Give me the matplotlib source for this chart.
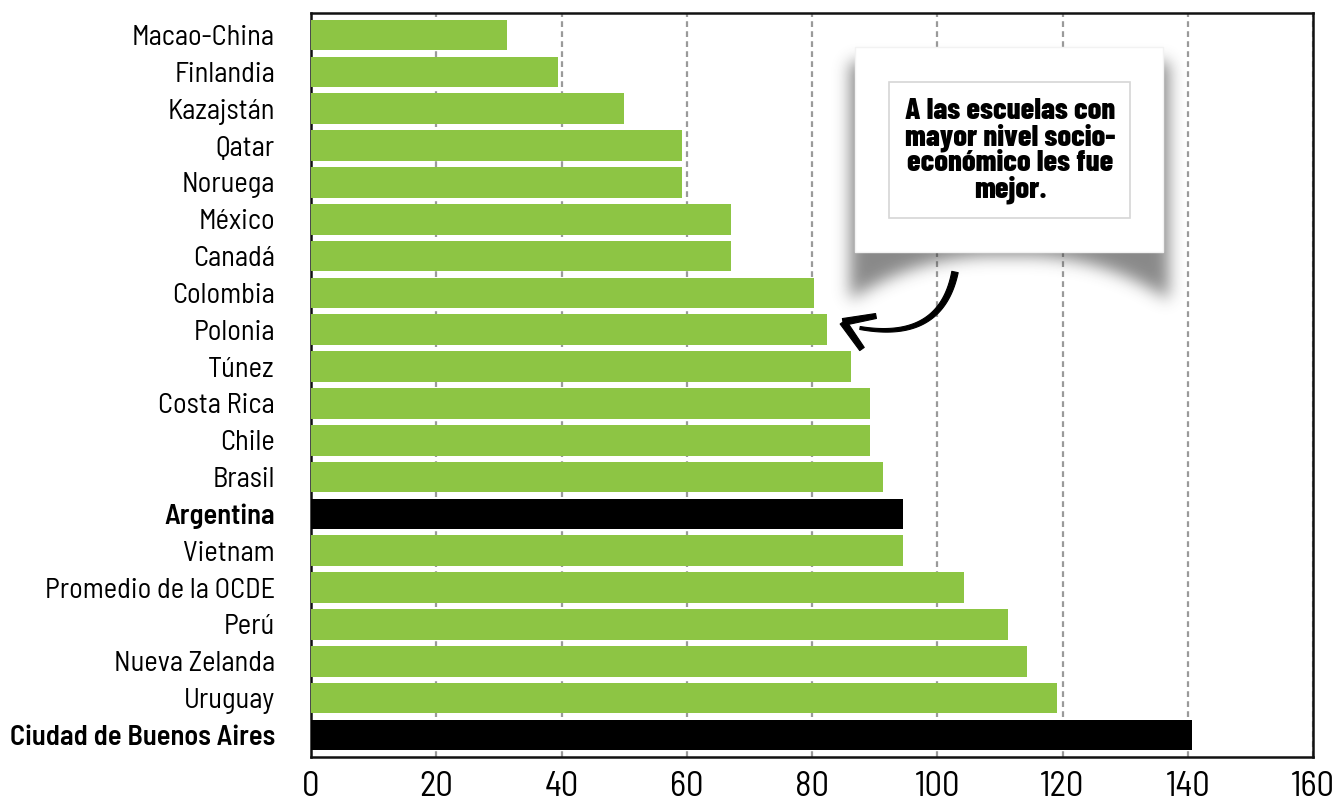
import numpy as np
import matplotlib
matplotlib.use("Agg")
import matplotlib.pyplot as plt
from matplotlib import font_manager as fm
from matplotlib.patches import Rectangle, Polygon

# ---- data -------------------------------------------------------------
countries = [
    "Macao-China", "Finlandia", "Kazajstán", "Qatar", "Noruega", "México",
    "Canadá", "Colombia", "Polonia", "Túnez", "Costa Rica", "Chile", "Brasil",
    "Argentina", "Vietnam", "Promedio de la OCDE", "Perú", "Nueva Zelanda",
    "Uruguay", "Ciudad de Buenos Aires",
]
values = [31.3, 39.4, 50.0, 59.3, 59.3, 67.0, 67.0, 80.3, 82.4, 86.2,
          89.2, 89.2, 91.4, 94.5, 94.5, 104.2, 111.3, 114.4, 119.1, 140.6]
highlighted = ["Argentina", "Ciudad de Buenos Aires"]
x_ticks = [0, 20, 40, 60, 80, 100, 120, 140, 160]
callout_text = "A las escuelas con\nmayor nivel socio-\neconómico les fue\nmejor."

GREEN = "#8dc544"
BLACK = "#000000"

# ---- fonts ------------------------------------------------------------
available = {f.name for f in fm.fontManager.ttflist}
FONT = "Barlow Semi Condensed" if "Barlow Semi Condensed" in available else "DejaVu Sans"
FONT_TIGHT = "Barlow Condensed" if "Barlow Condensed" in available else FONT
plt.rcParams["font.family"] = [FONT, "DejaVu Sans"]

W, H = 1339, 808
fig = plt.figure(figsize=(W / 100, H / 100), dpi=100)
fig.patch.set_facecolor("white")

ax = fig.add_axes([311 / W, 1 - 757 / H, (1313 - 311) / W, (757 - 13) / H])
ypos = np.arange(len(countries))
colors = [BLACK if c in highlighted else GREEN for c in countries]
ax.barh(ypos, values, height=0.83, color=colors, zorder=3)

ax.set_xlim(0, 160)
ax.set_ylim(len(countries) - 0.4, -0.6)
ax.set_xticks(x_ticks)
ax.set_xticklabels([str(t) for t in x_ticks], fontsize=25)
ax.set_yticks(ypos)
ax.set_yticklabels(countries, fontsize=20.5)
for lbl in ax.get_yticklabels():
    if lbl.get_text() in highlighted:
        lbl.set_fontweight(600)
ax.tick_params(axis="both", length=0)
ax.tick_params(axis="y", pad=26)
ax.tick_params(axis="x", pad=10)
ax.xaxis.grid(True, color="#9a9a9a", linewidth=1.6, linestyle=(0, (2.6, 1.9)), zorder=1)
ax.yaxis.grid(False)
ax.set_axisbelow(True)
for sp in ax.spines.values():
    sp.set_color("#111111")
    sp.set_linewidth(1.8)

# ---- callout overlay (pixel coordinates) ------------------------------
ov = fig.add_axes([0, 0, 1, 1], zorder=5)
ov.axis("off")
ov.patch.set_alpha(0)

# soft curled-page shadow behind the box
bx0, bx1, by0, by1 = 855, 1163, 47, 252
gx0, gx1, gy0, gy1 = 800, 1220, 20, 360
gw, gh = gx1 - gx0, gy1 - gy0
mask = np.zeros((gh, gw))
xs = np.arange(gx0, gx1)
for i, x in enumerate(xs):
    if 850 <= x <= 1168:
        t = (x - 1009) / 159.0
        ybot = 256 + 44 * abs(t) ** 2.4
        mask[max(0, 62 - gy0):int(ybot - gy0), i] = 1.0

def blur(a, sigma):
    r = int(3 * sigma)
    k = np.exp(-0.5 * (np.arange(-r, r + 1) / sigma) ** 2)
    k /= k.sum()
    a = np.apply_along_axis(lambda v: np.convolve(v, k, mode="same"), 0, a)
    a = np.apply_along_axis(lambda v: np.convolve(v, k, mode="same"), 1, a)
    return a

shadow = blur(mask, 8.0)
rgba = np.zeros((gh, gw, 4))
rgba[..., :3] = 0.2
rgba[..., 3] = 0.58 * shadow
ov.imshow(rgba, extent=(gx0, gx1, gy1, gy0), origin="upper",
          interpolation="bilinear", aspect="auto", zorder=1)
ov.set_xlim(0, W)
ov.set_ylim(H, 0)

ov.add_patch(Rectangle((bx0, by0), bx1 - bx0, by1 - by0, facecolor="white",
                       edgecolor="#f2f2f2", linewidth=1, zorder=2))
ov.add_patch(Rectangle((889, 82), 1130 - 889, 218 - 82, facecolor="white",
                       edgecolor="#d6d6d6", linewidth=1.2, zorder=3))
ov.text(1010, 151, callout_text, ha="center", va="center", fontsize=22,
        family=[FONT_TIGHT, "DejaVu Sans"], fontweight=800,
        linespacing=0.93, color="black", zorder=4)

# hand-drawn arrow as tapered brush strokes
def stroke(pts, w0, w1):
    pts = np.asarray(pts, dtype=float)
    d = np.gradient(pts, axis=0)
    n = np.stack([-d[:, 1], d[:, 0]], axis=1)
    n /= np.linalg.norm(n, axis=1, keepdims=True)
    w = np.linspace(w0, w1, len(pts))[:, None] / 2
    left = pts + n * w
    right = pts - n * w
    poly = np.vstack([left, right[::-1]])
    ov.add_patch(Polygon(poly, closed=True, facecolor="black", edgecolor="black",
                         linewidth=0.8, joinstyle="round", zorder=6))

t = np.linspace(0, 1, 60)[:, None]
p0, p1, p2 = np.array([955, 272]), np.array([941, 342]), np.array([860, 328])
curve = (1 - t) ** 2 * p0 + 2 * (1 - t) * t * p1 + t ** 2 * p2
stroke(curve, 6.5, 3.0)
s = np.linspace(0, 1, 20)[:, None]
stroke((1 - s) * np.array([843, 322]) + s * np.array([876, 316]), 7.0, 5.0)
stroke((1 - s) * np.array([843, 322]) + s * np.array([862, 349]), 7.0, 5.5)

fig.savefig("out.png", dpi=100, facecolor="white")
